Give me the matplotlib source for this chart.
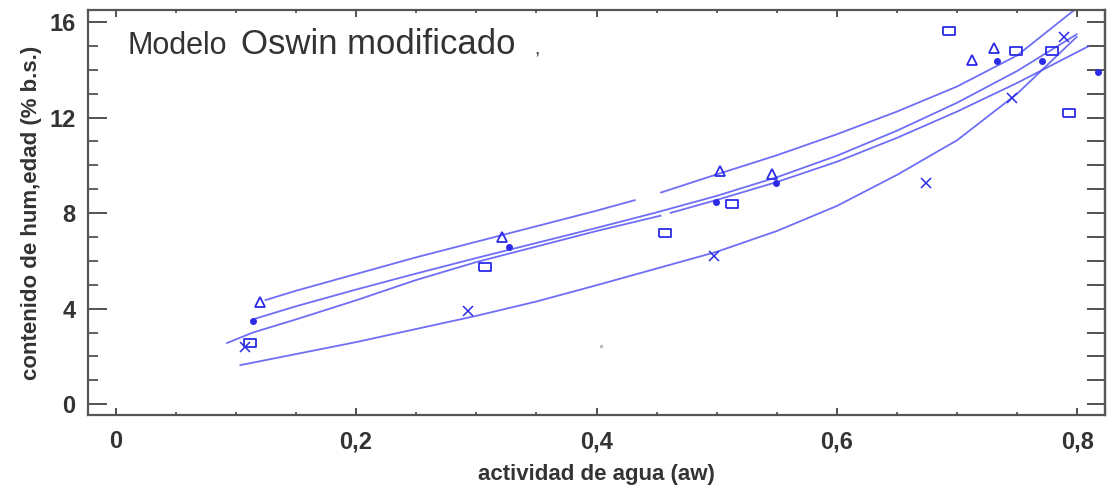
import matplotlib
matplotlib.use("Agg")
import numpy as np
import matplotlib.pyplot as plt
from matplotlib.ticker import MultipleLocator, FixedLocator, FixedFormatter

plt.rcParams['font.family'] = ['Liberation Sans', 'DejaVu Sans']

# ---------------- data ----------------
# experimental points
tri_aw = [0.120, 0.321, 0.503, 0.546, 0.7125, 0.731]
tri_m = [4.30, 7.00, 9.75, 9.65, 14.40, 14.90]

dot_aw = [0.114, 0.327, 0.499, 0.549, 0.733, 0.771, 0.817]
dot_m = [3.50, 6.60, 8.45, 9.25, 14.35, 14.35, 13.90]

sq_aw = [0.112, 0.307, 0.457, 0.5125, 0.693, 0.749, 0.779, 0.793]
sq_m = [2.55, 5.75, 7.15, 8.37, 15.60, 14.80, 14.80, 12.20]

x_aw = [0.108, 0.293, 0.4975, 0.674, 0.746, 0.789]
x_m = [2.40, 3.90, 6.20, 9.25, 12.80, 15.35]

stray_aw = [0.404]
stray_m = [2.45]

# fitted Oswin curves (NaN = gap in the drawn line)
tri_fit_aw = [0.124, 0.15, 0.20, 0.25, 0.30, 0.35, 0.40, 0.4325, np.nan,
              0.453, 0.50, 0.55, 0.60, 0.65, 0.70, 0.75, 0.7975]
tri_fit_m = [4.35, 4.75, 5.45, 6.15, 6.80, 7.45, 8.10, 8.55, np.nan,
             8.85, 9.62, 10.42, 11.30, 12.25, 13.30, 14.60, 16.50]

dot_fit_aw = [0.114, 0.15, 0.20, 0.25, 0.30, 0.35, 0.40, 0.45, 0.50,
              0.55, 0.60, 0.65, 0.70, 0.75, 0.80]
dot_fit_m = [3.55, 4.10, 4.80, 5.47, 6.12, 6.75, 7.38, 8.03, 8.72,
             9.50, 10.40, 11.45, 12.62, 13.95, 15.50]

sq_fit_aw = [0.092, 0.114, 0.15, 0.20, 0.25, 0.30, 0.35, 0.40, 0.454, np.nan,
             0.461, 0.50, 0.55, 0.60, 0.65, 0.70, 0.75, 0.81]
sq_fit_m = [2.55, 3.00, 3.55, 4.35, 5.20, 5.95, 6.60, 7.25, 7.90, np.nan,
            8.00, 8.55, 9.30, 10.15, 11.15, 12.25, 13.45, 15.00]

x_fit_aw = [0.103, 0.15, 0.20, 0.25, 0.30, 0.35, 0.40, 0.45, 0.50,
            0.55, 0.60, 0.65, 0.70, 0.75, 0.80]
x_fit_m = [1.63, 2.10, 2.60, 3.15, 3.70, 4.30, 4.98, 5.68, 6.38,
           7.25, 8.30, 9.60, 11.05, 13.00, 15.40]

x_ticks = [0.0, 0.2, 0.4, 0.6, 0.8]
x_ticklabels = ["0", "0,2", "0,4", "0,6", "0,8"]
y_ticks = [0, 4, 8, 12, 16]
y_ticklabels = ["0", "4", "8", "12", "16"]

# ---------------- figure ----------------
fig = plt.figure(figsize=(11.10, 4.92), dpi=100)
ax = fig.add_axes([0.0793, 0.1565, 0.9162, 0.8232])

line_c = '#5555f5'
mark_c = '#2b2be6'
txt_c = '#333333'

for a, m in [(tri_fit_aw, tri_fit_m), (dot_fit_aw, dot_fit_m),
             (sq_fit_aw, sq_fit_m), (x_fit_aw, x_fit_m)]:
    ax.plot(a, m, color=line_c, lw=1.3, alpha=0.85, solid_capstyle='butt',
            solid_joinstyle='round')

rect = [(-1, -0.65), (1, -0.65), (1, 0.65), (-1, 0.65), (-1, -0.65)]
ax.plot(tri_aw, tri_m, ls='none', marker='^', ms=7, mfc='none', mec=mark_c, mew=1.3)
ax.plot(dot_aw, dot_m, ls='none', marker='o', ms=4, mfc=mark_c, mec=mark_c)
ax.plot(sq_aw, sq_m, ls='none', marker=rect, ms=9, mfc='none', mec=mark_c, mew=1.3)
ax.plot(x_aw, x_m, ls='none', marker='x', ms=7, mec=mark_c, mew=1.1)
ax.plot(stray_aw, stray_m, ls='none', marker='o', ms=1.5, color='#bbbbbb')

ax.set_xlim(-0.023, 0.823)
ax.set_ylim(-0.45, 16.5)

ax.xaxis.set_major_locator(FixedLocator(x_ticks))
ax.xaxis.set_major_formatter(FixedFormatter(x_ticklabels))
ax.xaxis.set_minor_locator(MultipleLocator(0.05))
ax.yaxis.set_major_locator(FixedLocator(y_ticks))
ax.yaxis.set_major_formatter(FixedFormatter(y_ticklabels))
ax.yaxis.set_minor_locator(MultipleLocator(1))

ax.tick_params(axis='x', which='major', direction='in', length=5, width=1.3,
               top=True, bottom=True, color='#444444', pad=11,
               labelsize=17, labelcolor=txt_c)
ax.tick_params(axis='x', which='minor', direction='in', length=2.5, width=1.2,
               top=True, bottom=True, color='#444444')
ax.tick_params(axis='y', which='major', direction='in', length=14, width=1.3,
               left=True, right=False, color='#444444', pad=9,
               labelsize=17, labelcolor=txt_c)
ax.tick_params(axis='y', which='minor', direction='in', length=7, width=1.2,
               left=True, right=False, color='#444444')
for lab in ax.get_xticklabels() + ax.get_yticklabels():
    lab.set_fontweight('bold')

sec = ax.secondary_yaxis('right')
sec.yaxis.set_major_locator(MultipleLocator(1))
sec.tick_params(axis='y', which='both', direction='in', length=13, width=1.3,
                color='#444444', labelright=False)
sec.spines['right'].set_color('#555555')
sec.spines['right'].set_linewidth(1.6)

for s in ax.spines.values():
    s.set_color('#555555')
    s.set_linewidth(1.6)

ax.set_xlabel("actividad de agua (aw)", fontsize=16, fontweight='bold',
              color=txt_c, labelpad=8)
ax.set_ylabel("contenido de hum,edad (% b.s.)", fontsize=16, fontweight='bold',
              color=txt_c, labelpad=5)

ax.text(0.039, 0.912, "Modelo", transform=ax.transAxes, fontsize=22,
        va='center', ha='left', color=txt_c)
ax.text(0.150, 0.915, "Oswin modificado", transform=ax.transAxes, fontsize=25,
        va='center', ha='left', color=txt_c)
ax.text(0.439, 0.900, ",", transform=ax.transAxes, fontsize=14,
        va='center', ha='left', color=txt_c)

fig.savefig("out.png", dpi=100)
